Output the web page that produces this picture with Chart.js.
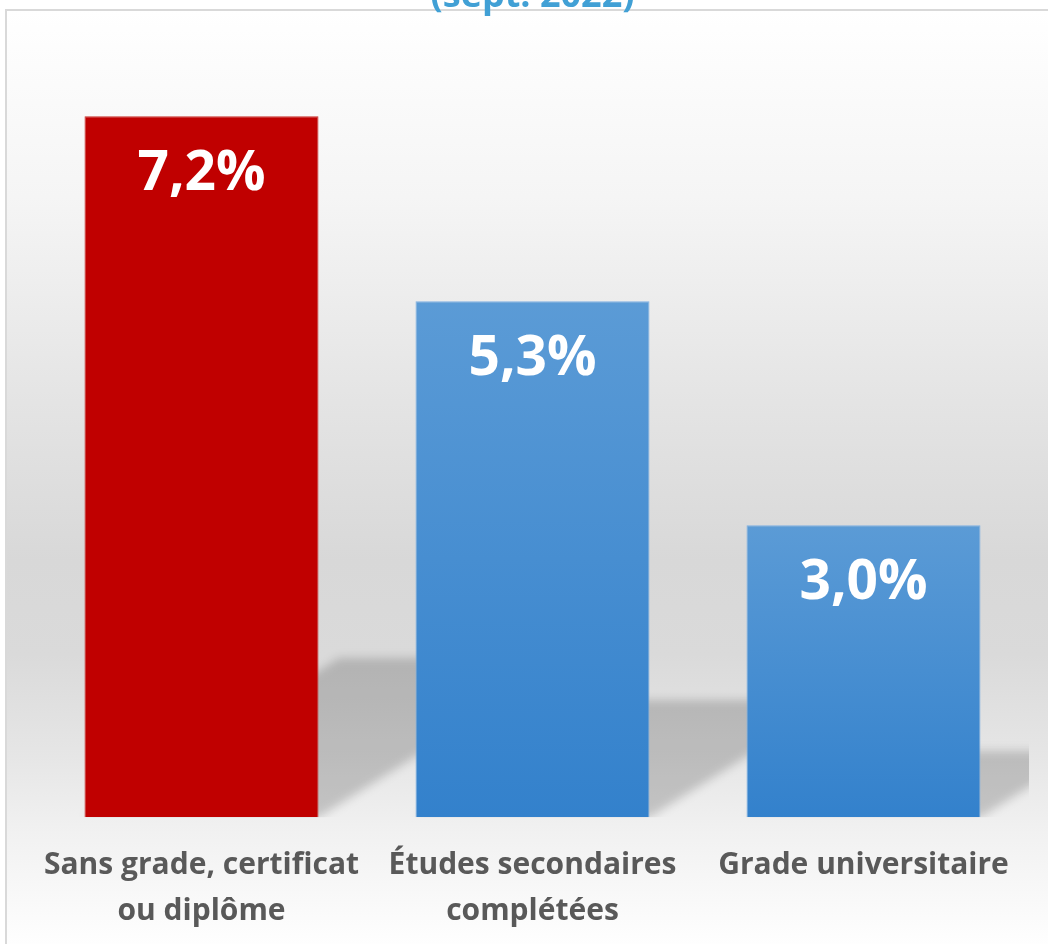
<!DOCTYPE html>
<html>
<head>
<meta charset="utf-8">
<script src="https://cdn.jsdelivr.net/npm/chart.js@4"></script>
<style>
  html, body { margin: 0; padding: 0; background: #fff; overflow: hidden; }
  #wrap { width: 1048px; height: 954px; }
</style>
</head>
<body>
<div id="wrap"><canvas id="chart"></canvas></div>
<script>
var categories = [['Sans grade, certificat', 'ou diplôme'], ['Études secondaires', 'complétées'], ['Grade universitaire']];
var values = [7.2, 5.3, 3.0];
var titleText = '(sept. 2022)';

// fond gris dégradé + cadre
var backdrop = {
  id: 'backdrop',
  beforeDraw: function (chart) {
    var ctx = chart.ctx;
    var g = ctx.createLinearGradient(0, 10, 0, 944);
    g.addColorStop(0, '#ffffff');
    g.addColorStop(0.2, '#f5f5f5');
    g.addColorStop(0.42, '#e4e4e4');
    g.addColorStop(0.59, '#d8d8d8');
    g.addColorStop(0.69, '#dadada');
    g.addColorStop(0.8, '#e6e6e6');
    g.addColorStop(0.88, '#f1f1f1');
    g.addColorStop(1, '#fefefe');
    ctx.save();
    ctx.fillStyle = g;
    ctx.fillRect(6, 10, 1048, 954);
    ctx.strokeStyle = '#d9d9d9';
    ctx.lineWidth = 2;
    ctx.strokeRect(6, 10, 1100, 1000);
    ctx.restore();
  }
};

// ombre en perspective derrière les barres
var barShadow = {
  id: 'barShadow',
  beforeDatasetsDraw: function (chart) {
    var ctx = chart.ctx, area = chart.chartArea;
    var meta = chart.getDatasetMeta(0);
    ctx.save();
    ctx.beginPath();
    ctx.rect(area.left, area.top, area.right - area.left, area.bottom - area.top);
    ctx.clip();
    ctx.filter = 'blur(5px)';
    ctx.fillStyle = 'rgba(0,0,0,0.18)';
    meta.data.forEach(function (bar) {
      var p = bar.getProps(['x', 'y', 'base', 'width'], true);
      var x0 = p.x - p.width / 2, x1 = p.x + p.width / 2;
      var sh = (p.base - p.y) * 0.227;
      var s = sh * 1.6;
      ctx.beginPath();
      ctx.moveTo(x0, p.base);
      ctx.lineTo(x1, p.base);
      ctx.lineTo(x1 + s, p.base - sh);
      ctx.lineTo(x0 + s, p.base - sh);
      ctx.closePath();
      ctx.fill();
    });
    ctx.restore();
  }
};

// étiquettes de valeur dans les barres
var valueLabels = {
  id: 'valueLabels',
  afterDatasetsDraw: function (chart) {
    var ctx = chart.ctx;
    var meta = chart.getDatasetMeta(0);
    ctx.save();
    ctx.fillStyle = '#ffffff';
    ctx.font = 'bold 55px "Open Sans"';
    ctx.textAlign = 'center';
    ctx.textBaseline = 'alphabetic';
    meta.data.forEach(function (bar, i) {
      var txt = values[i].toFixed(1).replace('.', ',') + '%';
      ctx.fillText(txt, bar.x, bar.y + 74);
    });
    ctx.restore();
  }
};

function barFill(context) {
  if (context.dataIndex === 0) return '#c00000';
  var chart = context.chart;
  var yScale = chart.scales.y;
  if (!yScale) return '#4a90d2';
  var top = yScale.getPixelForValue(values[context.dataIndex]);
  var base = yScale.getPixelForValue(0);
  var g = chart.ctx.createLinearGradient(0, top, 0, base);
  g.addColorStop(0, '#5b9bd6');
  g.addColorStop(1, '#3381cc');
  return g;
}

var ctx = document.getElementById('chart').getContext('2d');
var myChart = new Chart(ctx, {
  type: 'bar',
  data: {
    labels: categories,
    datasets: [{
      data: values,
      backgroundColor: barFill,
      borderColor: ['#c9302c', '#7eb0e2', '#7eb0e2'],
      borderWidth: 1,
      barPercentage: 0.707,
      categoryPercentage: 1
    }]
  },
  options: {
    responsive: true,
    maintainAspectRatio: false,
    animation: false,
    layout: { padding: { top: 0, left: 36, right: 19, bottom: 3 } },
    plugins: {
      legend: { display: false },
      tooltip: { enabled: false },
      title: {
        display: true,
        text: titleText,
        color: '#41a0d5',
        font: { family: '"Open Sans"', size: 36, weight: 'bold', lineHeight: 1.2 },
        padding: { top: -25, bottom: 20.2 }
      }
    },
    scales: {
      x: {
        grid: { display: false },
        border: { display: false },
        ticks: {
          color: '#595959',
          maxRotation: 0,
          autoSkip: false,
          padding: 17,
          font: { family: '"Open Sans"', size: 30, weight: 'bold', lineHeight: 1.53 }
        }
      },
      y: {
        display: false,
        min: 0,
        max: 8
      }
    }
  },
  plugins: [backdrop, barShadow, valueLabels]
});
</script>
</body>
</html>
